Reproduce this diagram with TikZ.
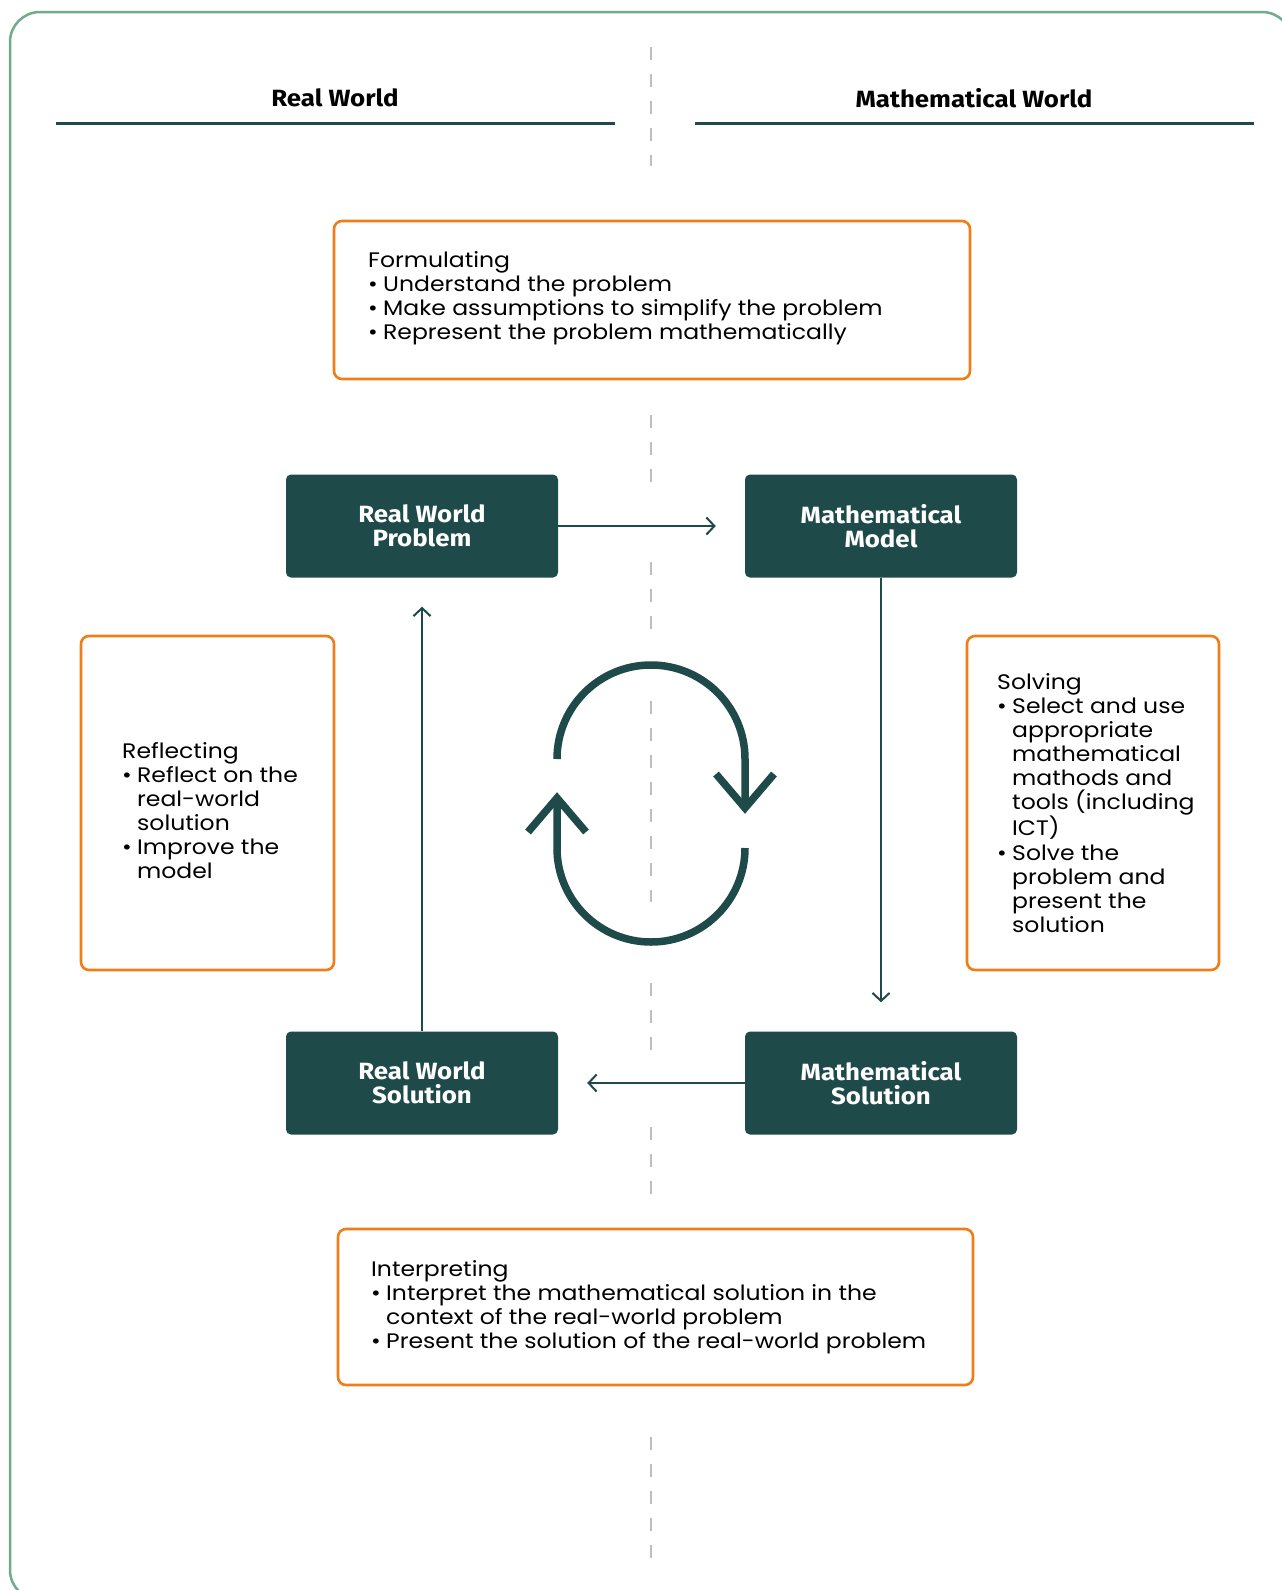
\documentclass[tikz,border=0pt]{standalone}
\usepackage{fontspec}
\setmainfont{Poppins}[FakeStretch=1.12]
\newfontfamily\headfont{Fira Sans}[FakeStretch=1.1]
\usetikzlibrary{arrows.meta}
\definecolor{dteal}{RGB}{31,74,74}
\definecolor{borange}{RGB}{239,125,24}
\definecolor{fgreen}{RGB}{112,172,140}
\definecolor{dgray}{RGB}{190,190,190}
\newcommand\bul{\makebox[15pt][l]{•}}
\newcommand\ind{\hspace*{15pt}}
\tikzset{
  stepbox/.style={draw=borange, line width=2.6pt, rounded corners=8pt, fill=white, inner sep=0pt},
  darkbox/.style={fill=dteal, rounded corners=5pt, minimum width=272pt, minimum height=103pt, inner sep=0pt,
    text=white, align=center, font=\headfont\bfseries\fontsize{23.5}{24.5}\selectfont},
  head/.style={font=\headfont\bfseries\fontsize{23.5}{26}\selectfont, inner sep=0pt},
  bodytxt/.style={anchor=north west, inner sep=0pt, align=left, font=\fontsize{21}{24.1}\selectfont},
  conn/.style={draw=dteal, line width=2pt, shorten >=29pt, -{Straight Barb[length=8pt,width=17pt,line width=2pt]}},
  sep/.style={draw=dgray, line width=2pt, dash pattern=on 12.5pt off 14.5pt},
  cyc/.style={draw=dteal, line width=7.5pt, line cap=butt, line join=miter},
  rule/.style={draw=dteal, line width=3pt}
}
\begin{document}
\begin{tikzpicture}[x=1pt,y=-1pt]
\useasboundingbox (0,0) rectangle (1282,1590);
\fill[white] (0,0) rectangle (1282,1590);
% frame
\draw[fgreen, line width=2.5pt, rounded corners=30pt] (10,12) rectangle (1292,1600);
% dashed separator
\foreach \a/\b in {47/166,415/482,562/630,701/902,983/1052,1127/1194,1437/1564}
  \draw[sep] (651,\a) -- (651,\b);
% headers
\node[head] (hrw) at (335,98) {Real World};
\node[head] (hmw) at (974,98) {Mathematical World};
\draw[rule] (56,123) -- (615,123);
\draw[rule] (695,123) -- (1254,123);
% orange boxes
\node[stepbox, minimum width=636pt, minimum height=158pt] (form) at (652,300) {};
\node[stepbox, minimum width=253pt, minimum height=334pt] (refl) at (207.5,803) {};
\node[stepbox, minimum width=252pt, minimum height=334pt] (solv) at (1093,803) {};
\node[stepbox, minimum width=635pt, minimum height=156pt] (interp) at (655.5,1307) {};
\node[bodytxt] (formt) at (368,251) {Formulating\\\bul Understand the problem\\\bul Make assumptions to simplify the problem\\\bul Represent the problem mathematically};
\node[bodytxt] (reflt) at (122,742) {Reflecting\\\bul Reflect on the\\\ind real-world\\\ind solution\\\bul Improve the\\\ind model};
\node[bodytxt] (solvt) at (997,673) {Solving\\\bul Select and use\\\ind appropriate\\\ind mathematical\\\ind mathods and\\\ind tools (including\\\ind ICT)\\\bul Solve the\\\ind problem and\\\ind present the\\\ind solution};
\node[bodytxt] (interpt) at (371,1260) {Interpreting\\\bul Interpret the mathematical solution in the\\\ind context of the real-world problem\\\bul Present the solution of the real-world problem};
% dark nodes
\node[darkbox] (rwp) at (422,526) {Real World\\Problem};
\node[darkbox] (mm) at (881,526) {Mathematical\\Model};
\node[darkbox] (rws) at (422,1083) {Real World\\Solution};
\node[darkbox] (ms) at (881,1083) {Mathematical\\Solution};
% connectors
\draw[conn] (rwp.east) -- (mm.west);
\draw[conn] (mm.south) -- (ms.north);
\draw[conn] (ms.west) -- (rws.east);
\draw[conn] (rws.north) -- (rwp.south);
% cycle icon
\draw[cyc] (557,759) arc[start angle=180, end angle=360, radius=94] -- (745,808);
\draw[cyc] (716,774) -- (745,808) -- (774,774);
\draw[cyc] (745,848) arc[start angle=0, end angle=180, radius=94] -- (557,798);
\draw[cyc] (528,832) -- (557,798) -- (586,832);
\end{tikzpicture}
\end{document}
